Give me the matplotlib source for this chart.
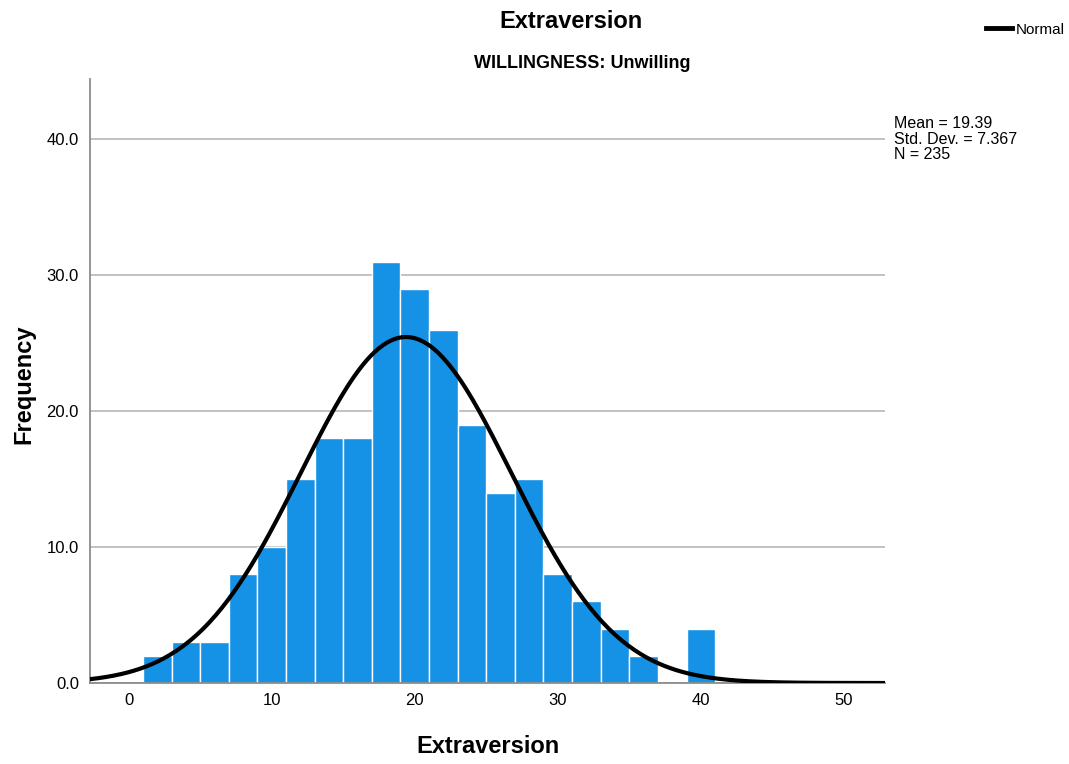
import numpy as np
import matplotlib.pyplot as plt

# Extraversion scores, WILLINGNESS = Unwilling (binned, width 2)
bin_edges = [1, 3, 5, 7, 9, 11, 13, 15, 17, 19, 21, 23, 25, 27, 29, 31, 33, 35, 37, 39, 41]
counts = [2, 3, 3, 8, 10, 15, 18, 18, 31, 29, 26, 19, 14, 15, 8, 6, 4, 2, 0, 4]
mean = 19.39
sd = 7.367
n = 235

plt.rcParams['font.family'] = ['Liberation Sans', 'DejaVu Sans']

fig = plt.figure(figsize=(10.69, 7.64), dpi=100)
ax = fig.add_axes([0.0842, 0.106, 0.744, 0.790])

lefts = np.array(bin_edges[:-1])
widths = np.diff(bin_edges)
ax.bar(lefts, counts, width=widths, align='edge', color='#1591e6',
       edgecolor='white', linewidth=1.0, zorder=2)

# normal curve scaled to the histogram
xmin, xmax = -2.7, 52.9
xs = np.linspace(xmin, xmax, 400)
bw = 2
ys = n * bw / (sd * np.sqrt(2 * np.pi)) * np.exp(-0.5 * ((xs - mean) / sd) ** 2)
ax.plot(xs, ys, color='black', linewidth=3, zorder=3)

ax.set_xlim(xmin, xmax)
ax.set_ylim(0, 44.4)
ax.set_xticks([0, 10, 20, 30, 40, 50])
ax.set_yticks([0, 10, 20, 30, 40])
ax.set_yticklabels(['0.0', '10.0', '20.0', '30.0', '40.0'])
ax.tick_params(length=0, labelsize=12, pad=7)
ax.tick_params(axis='y', pad=8)
ax.grid(axis='y', color='#bdbdbd', linewidth=1.3, zorder=1)
ax.set_axisbelow(True)
for s in ['top', 'right']:
    ax.spines[s].set_visible(False)
ax.spines['left'].set_color('#8c8c8c')
ax.spines['left'].set_linewidth(1.3)
ax.spines['bottom'].set_color('#8c8c8c')
ax.spines['bottom'].set_linewidth(1.3)

ax.set_xlabel('Extraversion', fontsize=17, fontweight='bold')
ax.set_ylabel('Frequency', fontsize=17, fontweight='bold')
ax.xaxis.set_label_coords(0.501, -0.086)
ax.yaxis.set_label_coords(-0.069, 0.495)

fig.text(0.534, 0.972, 'Extraversion', ha='center', va='center', fontsize=17, fontweight='bold')
fig.text(0.545, 0.917, 'WILLINGNESS: Unwilling', ha='center', va='center', fontsize=13, fontweight='bold')

# legend and stats box on the right
fig.add_artist(plt.Line2D([0.922, 0.947], [0.964, 0.964], color='black', linewidth=3.5))
fig.text(0.950, 0.961, 'Normal', ha='left', va='center', fontsize=11)
fig.text(0.836, 0.818, 'Mean = %.2f\nStd. Dev. = %.3f\nN = %d' % (mean, sd, n),
         ha='left', va='center', fontsize=11.5, linespacing=1.05)

fig.savefig('out.png', dpi=100)
